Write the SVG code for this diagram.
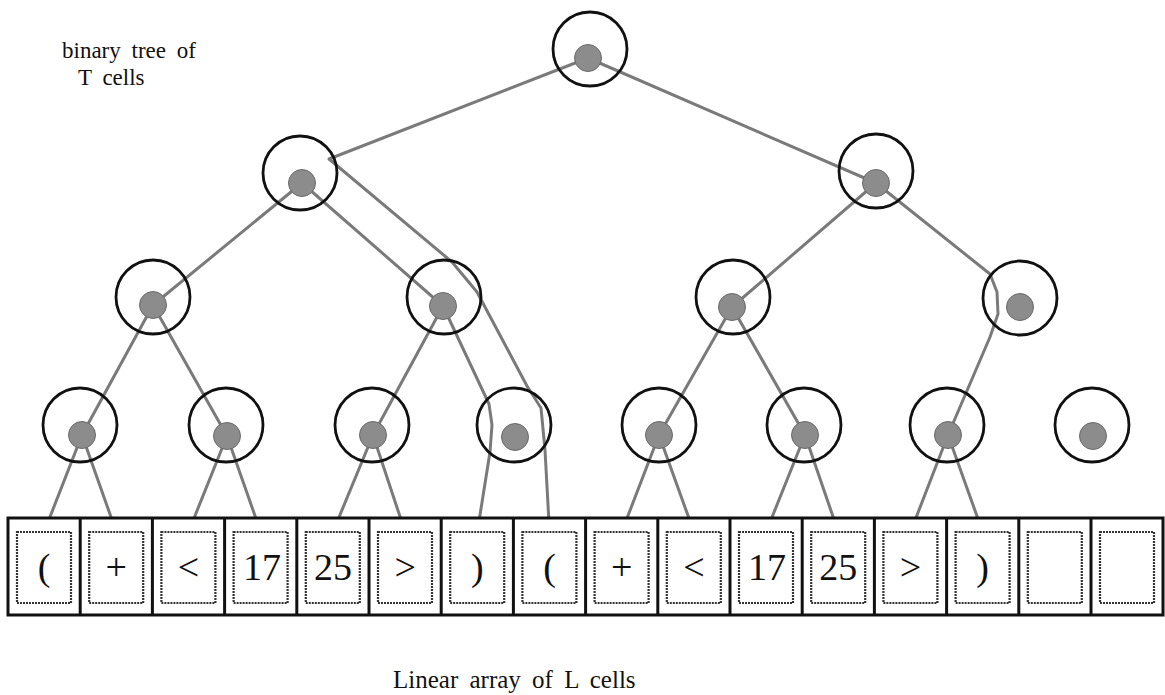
<svg xmlns="http://www.w3.org/2000/svg" width="1165" height="695" viewBox="0 0 1165 695">
  <style>
    .ring { fill: none; stroke: #111; stroke-width: 2.8; }
    .dot { fill: #8c8c8c; stroke: #6a6a6a; stroke-width: 1; }
    .wire { fill: none; stroke: #7a7a7a; stroke-width: 3; stroke-linejoin: round; stroke-linecap: round; }
    .cell { fill: #fff; stroke: #111; stroke-width: 3; }
    .slot { fill: #fff; stroke: #333; stroke-width: 2.2; stroke-dasharray: 2 1; }
    .sym { font-family: "Liberation Serif", "Times New Roman", serif; font-size: 38px; fill: #111; text-anchor: middle; }
    .label { font-family: "Liberation Serif", "Times New Roman", serif; font-size: 23px; fill: #111; word-spacing: 5px; }
  </style>

  <!-- connectors: tree edges and the wires down to the L cells -->
  <g id="connectors">
    <line class="wire" x1="588" y1="58" x2="876" y2="183"/>
    <polyline class="wire" points="588,58 329,159 452,262 477,292 527,386 541,408 545,450 549.5,532"/>
    <line class="wire" x1="302" y1="183" x2="153" y2="305"/>
    <line class="wire" x1="302" y1="183" x2="443" y2="306"/>
    <line class="wire" x1="876" y1="183" x2="732" y2="307"/>
    <polyline class="wire" points="876,183 990,274 997,292 998,314 990,337 948,435"/>
    <line class="wire" x1="153" y1="305" x2="82" y2="435"/>
    <line class="wire" x1="153" y1="305" x2="227" y2="436"/>
    <line class="wire" x1="443" y1="306" x2="373" y2="435"/>
    <polyline class="wire" points="443,306 489,404 492,425 490,452 477.3,532"/>
    <line class="wire" x1="732" y1="307" x2="659" y2="435"/>
    <line class="wire" x1="732" y1="307" x2="805" y2="435"/>
    <line class="wire" x1="82" y1="435" x2="44.1" y2="532"/>
    <line class="wire" x1="82" y1="435" x2="116.3" y2="532"/>
    <line class="wire" x1="227" y1="436" x2="188.5" y2="532"/>
    <line class="wire" x1="227" y1="436" x2="260.7" y2="532"/>
    <line class="wire" x1="373" y1="435" x2="332.9" y2="532"/>
    <line class="wire" x1="373" y1="435" x2="405.1" y2="532"/>
    <line class="wire" x1="659" y1="435" x2="621.7" y2="532"/>
    <line class="wire" x1="659" y1="435" x2="693.9" y2="532"/>
    <line class="wire" x1="805" y1="435" x2="766.1" y2="532"/>
    <line class="wire" x1="805" y1="435" x2="838.3" y2="532"/>
    <line class="wire" x1="948" y1="435" x2="910.5" y2="532"/>
    <line class="wire" x1="948" y1="435" x2="982.7" y2="532"/>
  </g>

  <!-- T cells of the binary tree -->
  <g id="t-root"><circle class="ring" cx="590" cy="49" r="37"/><circle class="dot" cx="588" cy="58" r="13.5"/></g>
  <g id="t-l"><circle class="ring" cx="300" cy="173" r="37"/><circle class="dot" cx="302" cy="183" r="13.5"/></g>
  <g id="t-r"><circle class="ring" cx="876" cy="171" r="37"/><circle class="dot" cx="876" cy="183" r="13.5"/></g>
  <g id="t-ll"><circle class="ring" cx="153" cy="297" r="37"/><circle class="dot" cx="153" cy="305" r="13.5"/></g>
  <g id="t-lr"><circle class="ring" cx="444" cy="297" r="37"/><circle class="dot" cx="443" cy="306" r="13.5"/></g>
  <g id="t-rl"><circle class="ring" cx="733" cy="297" r="37"/><circle class="dot" cx="732" cy="307" r="13.5"/></g>
  <g id="t-rr"><circle class="ring" cx="1020" cy="298" r="37"/><circle class="dot" cx="1020" cy="307" r="13.5"/></g>
  <g id="t-0"><circle class="ring" cx="80" cy="425" r="37"/><circle class="dot" cx="82" cy="435" r="13.5"/></g>
  <g id="t-1"><circle class="ring" cx="226" cy="425" r="37"/><circle class="dot" cx="227" cy="436" r="13.5"/></g>
  <g id="t-2"><circle class="ring" cx="372" cy="425" r="37"/><circle class="dot" cx="373" cy="435" r="13.5"/></g>
  <g id="t-3"><circle class="ring" cx="514" cy="425" r="37"/><circle class="dot" cx="515" cy="437" r="13.5"/></g>
  <g id="t-4"><circle class="ring" cx="659" cy="425" r="37"/><circle class="dot" cx="659" cy="435" r="13.5"/></g>
  <g id="t-5"><circle class="ring" cx="804" cy="425" r="37"/><circle class="dot" cx="805" cy="435" r="13.5"/></g>
  <g id="t-6"><circle class="ring" cx="947" cy="425" r="37"/><circle class="dot" cx="948" cy="435" r="13.5"/></g>
  <g id="t-7"><circle class="ring" cx="1092" cy="425" r="37"/><circle class="dot" cx="1093" cy="436" r="13.5"/></g>

  <!-- linear array of L cells -->
  <g id="l-array">
    <rect class="cell" x="8" y="518" width="1155" height="97"/>
    <path fill="none" stroke="#111" stroke-width="3" d="M80.2 518V615M152.4 518V615M224.6 518V615M296.8 518V615M369 518V615M441.2 518V615M513.4 518V615M585.6 518V615M657.8 518V615M730 518V615M802.2 518V615M874.4 518V615M946.6 518V615M1018.8 518V615M1091 518V615"/>
  </g>
  <g id="l-0"><rect class="slot" x="17" y="532" width="54" height="71"/><text class="sym" x="44.1" y="580">(</text></g>
  <g id="l-1"><rect class="slot" x="89.2" y="532" width="54" height="71"/><text class="sym" x="116.3" y="580">+</text></g>
  <g id="l-2"><rect class="slot" x="161.4" y="532" width="54" height="71"/><text class="sym" x="188.5" y="580">&lt;</text></g>
  <g id="l-3"><rect class="slot" x="233.6" y="532" width="54" height="71"/><text class="sym" x="262" y="580">17</text></g>
  <g id="l-4"><rect class="slot" x="305.8" y="532" width="54" height="71"/><text class="sym" x="333" y="580">25</text></g>
  <g id="l-5"><rect class="slot" x="378" y="532" width="54" height="71"/><text class="sym" x="405.1" y="580">&gt;</text></g>
  <g id="l-6"><rect class="slot" x="450.2" y="532" width="54" height="71"/><text class="sym" x="477.3" y="580">)</text></g>
  <g id="l-7"><rect class="slot" x="522.4" y="532" width="54" height="71"/><text class="sym" x="549.5" y="580">(</text></g>
  <g id="l-8"><rect class="slot" x="594.6" y="532" width="54" height="71"/><text class="sym" x="621.7" y="580">+</text></g>
  <g id="l-9"><rect class="slot" x="666.8" y="532" width="54" height="71"/><text class="sym" x="693.9" y="580">&lt;</text></g>
  <g id="l-10"><rect class="slot" x="739" y="532" width="54" height="71"/><text class="sym" x="767" y="580">17</text></g>
  <g id="l-11"><rect class="slot" x="811.2" y="532" width="54" height="71"/><text class="sym" x="838.3" y="580">25</text></g>
  <g id="l-12"><rect class="slot" x="883.4" y="532" width="54" height="71"/><text class="sym" x="910.5" y="580">&gt;</text></g>
  <g id="l-13"><rect class="slot" x="955.6" y="532" width="54" height="71"/><text class="sym" x="982.7" y="580">)</text></g>
  <g id="l-14"><rect class="slot" x="1027.8" y="532" width="54" height="71"/></g>
  <g id="l-15"><rect class="slot" x="1100" y="532" width="54" height="71"/></g>

  <!-- captions -->
  <text class="label" x="62" y="58">binary tree of</text>
  <text class="label" x="78" y="85">T cells</text>
  <text class="label" x="393" y="688" style="font-size:25px">Linear array of L cells</text>
</svg>
